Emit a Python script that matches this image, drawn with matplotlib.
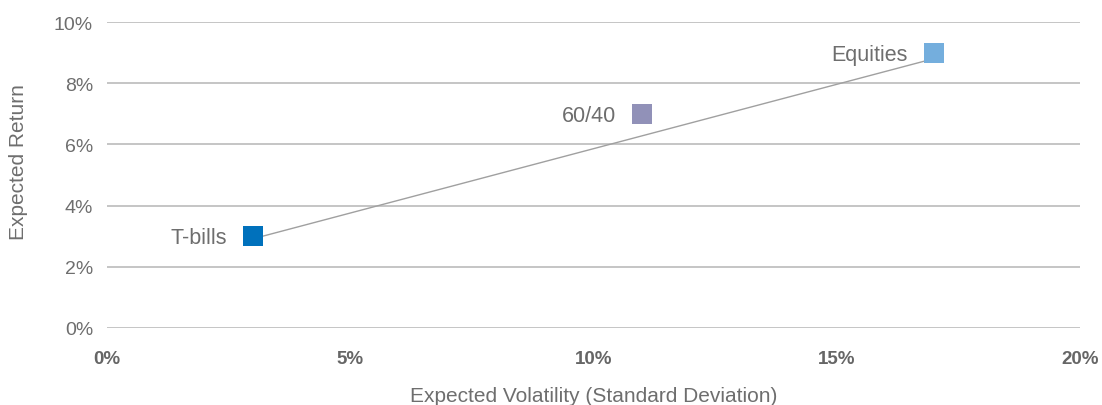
import matplotlib
matplotlib.use("Agg")
import matplotlib.pyplot as plt
from matplotlib.ticker import FuncFormatter

# Portfolio risk / return points (percent)
assets = ["T-bills", "60/40", "Equities"]
volatility = [3, 11, 17]
expected_return = [3, 7, 9]
colors = ["#0071BC", "#9191B8", "#74AEDD"]

# Connector line between the T-bills and Equities points
line_vol = [3.2, 16.8]
line_ret = [3.0, 8.72]

x_ticks = [0, 5, 10, 15, 20]
y_ticks = [0, 2, 4, 6, 8, 10]

text_gray = "#6E6E6E"
grid_gray = "#C0C0C0"
sans = ["Liberation Sans", "DejaVu Sans"]

fig = plt.figure(figsize=(11.02, 4.06), dpi=100)
ax = fig.add_axes([107 / 1102, 1 - 329 / 406, (1080 - 107) / 1102, (329 - 23) / 406])

ax.set_xlim(0, 20)
ax.set_ylim(0, 10)

for y in y_ticks:
    ax.axhline(y, color=grid_gray, lw=1.3, zorder=1)

ax.plot(line_vol, line_ret, color="#A0A0A0", lw=1.0, zorder=2)

marker_side_pt = 14.4
for name, x, y, c in zip(assets, volatility, expected_return, colors):
    ax.scatter([x], [y], marker="s", s=marker_side_pt ** 2, color=c,
               edgecolors="none", zorder=3)
    ax.annotate(name, (x, y), xytext=(-19, -1.2), textcoords="offset points",
                ha="right", va="center", fontsize=15.5, color=text_gray, family=sans)

for s in ax.spines.values():
    s.set_visible(False)

ax.xaxis.set_major_formatter(FuncFormatter(lambda v, p: f"{v:.0f}%"))
ax.yaxis.set_major_formatter(FuncFormatter(lambda v, p: f"{v:.0f}%"))
ax.set_xticks(x_ticks)
ax.set_yticks(y_ticks)
ax.tick_params(axis="both", length=0)
ax.tick_params(axis="y", pad=10, labelsize=14, labelcolor=text_gray)
ax.tick_params(axis="x", pad=15.5, labelsize=13.5, labelcolor="#666666")
for lbl in ax.get_xticklabels():
    lbl.set_fontweight("bold")
    lbl.set_family(sans)
for lbl in ax.get_yticklabels():
    lbl.set_family(sans)

ax.set_xlabel("Expected Volatility (Standard Deviation)", fontsize=15, color=text_gray,
              family=sans)
ax.xaxis.set_label_coords(0.5, -(397 - 329) / 306)
ax.xaxis.label.set_va("center")
ax.set_ylabel("Expected Return", fontsize=15, color=text_gray, family=sans)
ax.yaxis.set_label_coords(-(107 - 19) / 973, (329 - 162) / 306)
ax.yaxis.label.set_va("center")

fig.savefig("out.png", dpi=100)
